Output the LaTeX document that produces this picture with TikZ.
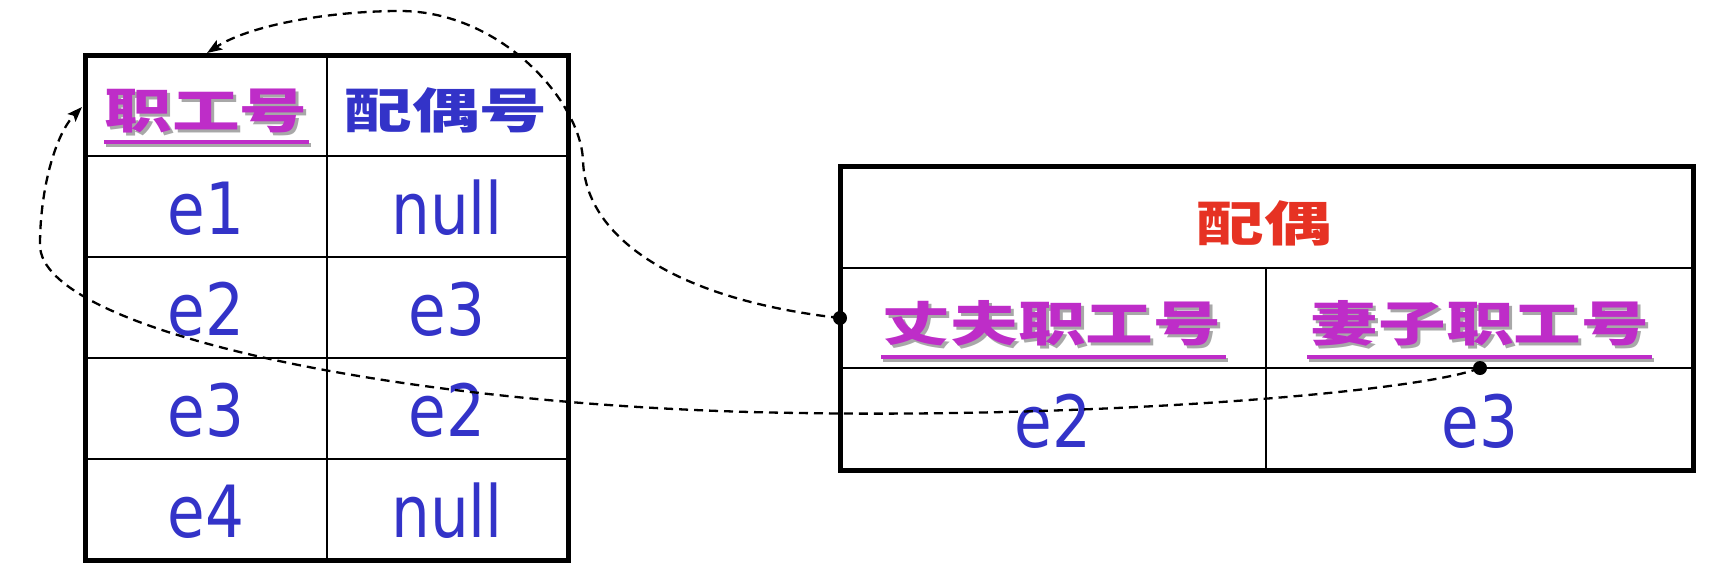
\documentclass[tikz,border=0pt]{standalone}
\usepackage{fontspec}
\newfontfamily\numfont{DejaVu Sans}[FakeStretch=0.85]
\newfontfamily\cjk{Noto Sans CJK SC}[FakeStretch=1.41]
\usetikzlibrary{arrows.meta}
\definecolor{numblue}{HTML}{3333C8}
\definecolor{keymag}{HTML}{BE2DC8}
\definecolor{titlered}{HTML}{E63223}
\definecolor{shadowgrey}{HTML}{A8A8A8}
\begin{document}
\begin{tikzpicture}[x=1pt,y=-1pt,
  num/.style={anchor=base, inner sep=0pt, text=numblue, font=\numfont\fontsize{72}{72}\selectfont},
  cjktext/.style={anchor=base, inner sep=0pt, font=\cjk\bfseries\fontsize{48}{48}\selectfont},
  keytext/.style={cjktext, text=keymag},
  shadowtext/.style={cjktext, text=shadowgrey},
  keyline/.style={draw=keymag, line width=4pt},
  shadowline/.style={draw=shadowgrey, line width=4pt},
  outer/.style={draw=black, line width=5pt},
  inner/.style={draw=black, line width=2.5pt},
  conn/.style={draw=black, line width=2.3pt, dash pattern=on 9pt off 6pt, -{Stealth[length=15pt,width=11pt,inset=3pt]}},
  dotmark/.style={circle, fill=black, inner sep=0pt, minimum size=14pt}
]
\useasboundingbox (0,0) rectangle (1710,582);

% ---------- left table ----------
\draw[inner] (85,156) -- (568,156);
\draw[inner] (85,257) -- (568,257);
\draw[inner] (85,358) -- (568,358);
\draw[inner] (85,459) -- (568,459);
\draw[inner] (327,55) -- (327,560);
\draw[outer] (85,55) rectangle (568,560);

\node[shadowtext] (k1s) at (209,131) {职工号};
\draw[shadowline] (106,145) -- (311,145);
\node[keytext] (k1) at (206,128) {职工号};
\draw[keyline] (104,142) -- (309,142);
\node[cjktext, text=numblue] (h2) at (446,128) {配偶号};

\node[num] (a1) at (206,234) {e1};
\node[num] (b1) at (447,234) {null};
\node[num] (a2) at (206,335) {e2};
\node[num] (b2) at (447,335) {e3};
\node[num] (a3) at (206,436) {e3};
\node[num] (b3) at (447,436) {e2};
\node[num] (a4) at (206,537) {e4};
\node[num] (b4) at (447,537) {null};

% ---------- right table ----------
\draw[inner] (840,268) -- (1693,268);
\draw[inner] (840,368) -- (1693,368);
\draw[inner] (1266,268) -- (1266,470);
\draw[outer] (840,166) rectangle (1693,470);

\node[cjktext, text=titlered] (title) at (1264,241) {配偶};

\node[shadowtext] (hs) at (1055,344) {丈夫职工号};
\draw[shadowline] (883,360) -- (1228,360);
\node[keytext] (h) at (1052,341) {丈夫职工号};
\draw[keyline] (881,357) -- (1226,357);

\node[shadowtext] (ws) at (1483,344) {妻子职工号};
\draw[shadowline] (1309,360) -- (1654,360);
\node[keytext] (w) at (1480,341) {妻子职工号};
\draw[keyline] (1307,357) -- (1652,357);

\node[num] (c1) at (1053,447) {e2};
\node[num] (c2) at (1480,447) {e3};

% ---------- connectors ----------
\coordinate (t1) at (207,53);
\coordinate (t2) at (82,107);
\node[dotmark] (d1) at (840,318) {};
\node[dotmark] (d2) at (1480,368) {};

\draw[conn] (d1.center) .. controls (680,300) and (585,240) .. (583,160)
  .. controls (580,100) and (500,11) .. (400,11)
  .. controls (330,11) and (250,25) .. (t1);

\draw[conn] (d2.center) .. controls (1420,392) and (1100,418) .. (800,413)
  .. controls (400,408) and (40,330) .. (40,245)
  .. controls (40,190) and (55,135) .. (t2);
\end{tikzpicture}
\end{document}
